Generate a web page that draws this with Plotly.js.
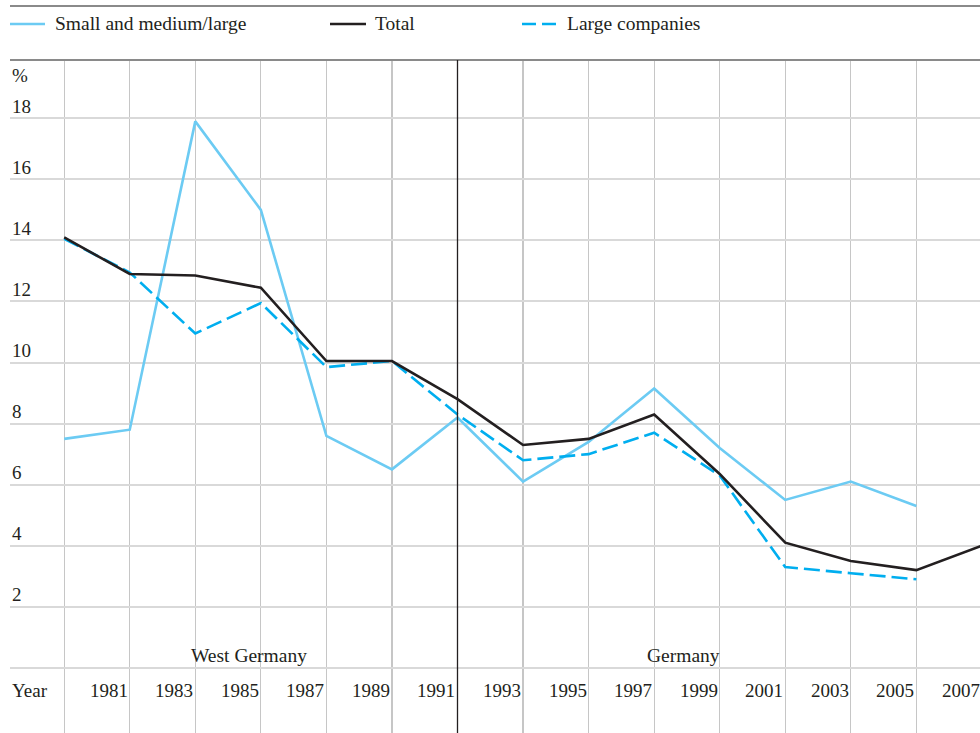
<!DOCTYPE html>
<html>
<head>
<meta charset="utf-8">
<script src="https://cdn.plot.ly/plotly-3.0.1.min.js"></script>
<style>
  html, body { margin: 0; padding: 0; background: #ffffff; }
  #chart { width: 980px; height: 733px; }
</style>
</head>
<body>
<div id="chart"></div>
<script>
// ---- data ----
const years = [1979, 1981, 1983, 1985, 1987, 1989, 1991, 1993, 1995, 1997, 1999, 2001, 2003, 2005, 2007];
const smallMedium = [7.5, 7.8, 17.9, 15.0, 7.6, 6.5, 8.2, 6.1, 7.4, 9.15, 7.2, 5.5, 6.1, 5.3, null];
const total       = [14.1, 12.9, 12.85, 12.45, 10.05, 10.05, 8.8, 7.3, 7.5, 8.3, 6.35, 4.1, 3.5, 3.2, 4.0];
const largeCos    = [14.05, 12.95, 10.95, 11.95, 9.85, 10.05, 8.3, 6.8, 7.0, 7.7, 6.3, 3.3, 3.1, 2.9, null];

const seriesNames = ["Small and medium/large", "Total", "Large companies"];
const xTickLabels = ["1981", "1983", "1985", "1987", "1989", "1991", "1993", "1995", "1997", "1999", "2001", "2003", "2005", "2007"];
const xTickYears  = [1981, 1983, 1985, 1987, 1989, 1991, 1993, 1995, 1997, 1999, 2001, 2003, 2005, 2007];
const yTickVals   = [0, 2, 4, 6, 8, 10, 12, 14, 16, 18];
const yTickLabels = ["", "2", "4", "6", "8", "10", "12", "14", "16", "18"];
const regionLabels = ["West Germany", "Germany"];
const dividerYear = 1991;

// ---- styling ----
const W = 980, H = 733, ML = 10, MT = 60;
const FONT = "'Liberation Serif', 'Times New Roman', serif";
const TXT = "#231f20";
const cLight = "#6ccbf3", cBlack = "#231f20", cBlue = "#00aeef";
const X_RANGE = [1977.3466, 2006.942];
const px2x = px => (px - ML) / (W - ML);
const py2y = py => (H - py) / (H - MT);
const yr2paper = yr => (yr - X_RANGE[0]) / (X_RANGE[1] - X_RANGE[0]);

const traces = [
  { x: years, y: smallMedium, name: seriesNames[0], mode: "lines",
    line: { color: cLight, width: 2.6 } },
  { x: years, y: largeCos, name: seriesNames[2], mode: "lines",
    line: { color: cBlue, width: 2.6, dash: "16px,6px" } },
  { x: years, y: total, name: seriesNames[1], mode: "lines",
    line: { color: cBlack, width: 2.6 } }
];

const annotations = [];
// y tick labels above gridlines
yTickVals.forEach((v, i) => {
  if (!yTickLabels[i]) return;
  annotations.push({ xref: "paper", yref: "y", x: 0, y: v, xanchor: "left", yanchor: "middle",
    yshift: 12, text: yTickLabels[i], showarrow: false, font: { family: FONT, size: 19, color: TXT } });
});
annotations.push({ xref: "paper", yref: "paper", x: 0, y: py2y(75.5), xanchor: "left", yanchor: "middle",
  text: "%", showarrow: false, font: { family: FONT, size: 19, color: TXT } });
// x tick labels right-aligned to gridlines
xTickYears.forEach((yr, i) => {
  annotations.push({ xref: "paper", yref: "paper", x: yr2paper(yr), y: py2y(690.3), xanchor: "right", yanchor: "middle",
    xshift: 0, text: xTickLabels[i], showarrow: false, font: { family: FONT, size: 19, color: TXT } });
});
annotations.push({ xref: "paper", yref: "paper", x: 0, y: py2y(690.3), xanchor: "left", yanchor: "middle",
  text: "Year", showarrow: false, font: { family: FONT, size: 19, color: TXT } });
// region labels
annotations.push({ xref: "paper", yref: "paper", x: px2x(248.5), y: py2y(655), xanchor: "center", yanchor: "middle",
  text: regionLabels[0], showarrow: false, font: { family: FONT, size: 19.5, color: TXT } });
annotations.push({ xref: "paper", yref: "paper", x: px2x(683), y: py2y(655), xanchor: "center", yanchor: "middle",
  text: regionLabels[1], showarrow: false, font: { family: FONT, size: 19.5, color: TXT } });
// legend texts
const legendTextX = [54, 374, 566];
[0, 1, 2].forEach((k, i) => {
  annotations.push({ xref: "paper", yref: "paper", x: px2x(legendTextX[i]), y: py2y(24), xanchor: "left", yanchor: "middle",
    xshift: -1, text: seriesNames[k], showarrow: false, font: { family: FONT, size: 19.5, color: TXT } });
});

const shapes = [
  // top rules
  { type: "line", xref: "paper", yref: "paper", x0: 0, x1: 1, y0: py2y(6), y1: py2y(6),
    line: { color: "#8a8a8a", width: 2 } },
  { type: "line", xref: "paper", yref: "paper", x0: 0, x1: 1, y0: 1, y1: 1,
    line: { color: "#8a8a8a", width: 2 } },
  // divider
  { type: "line", xref: "x", yref: "paper", x0: dividerYear, x1: dividerYear, y0: 0, y1: 1,
    layer: "above", line: { color: "#231f20", width: 1.3 } },
  // legend swatches
  { type: "line", xref: "paper", yref: "paper", x0: px2x(10), x1: px2x(45), y0: py2y(24), y1: py2y(24),
    line: { color: cLight, width: 2.6 } },
  { type: "line", xref: "paper", yref: "paper", x0: px2x(330), x1: px2x(366), y0: py2y(24), y1: py2y(24),
    line: { color: cBlack, width: 2.6 } },
  { type: "line", xref: "paper", yref: "paper", x0: px2x(522), x1: px2x(556), y0: py2y(24), y1: py2y(24),
    line: { color: cBlue, width: 2.6, dash: "14px,6px" } }
];

const layout = {
  width: W, height: H,
  margin: { l: ML, r: 0, t: MT, b: 0, pad: 0 },
  paper_bgcolor: "#ffffff", plot_bgcolor: "#ffffff",
  showlegend: false,
  font: { family: FONT, color: TXT },
  xaxis: {
    range: X_RANGE, tickvals: years, showticklabels: false, ticks: "",
    showgrid: true, gridcolor: "#c6c6c6", gridwidth: 1.3, zeroline: false, showline: false, fixedrange: true
  },
  yaxis: {
    range: [-2.135, 19.91], tickvals: yTickVals, showticklabels: false, ticks: "",
    showgrid: true, gridcolor: "#d9d9d9", gridwidth: 2, zeroline: false, showline: false, fixedrange: true
  },
  annotations: annotations,
  shapes: shapes
};

Plotly.newPlot("chart", traces, layout, { displayModeBar: false, staticPlot: true });
</script>
</body>
</html>
